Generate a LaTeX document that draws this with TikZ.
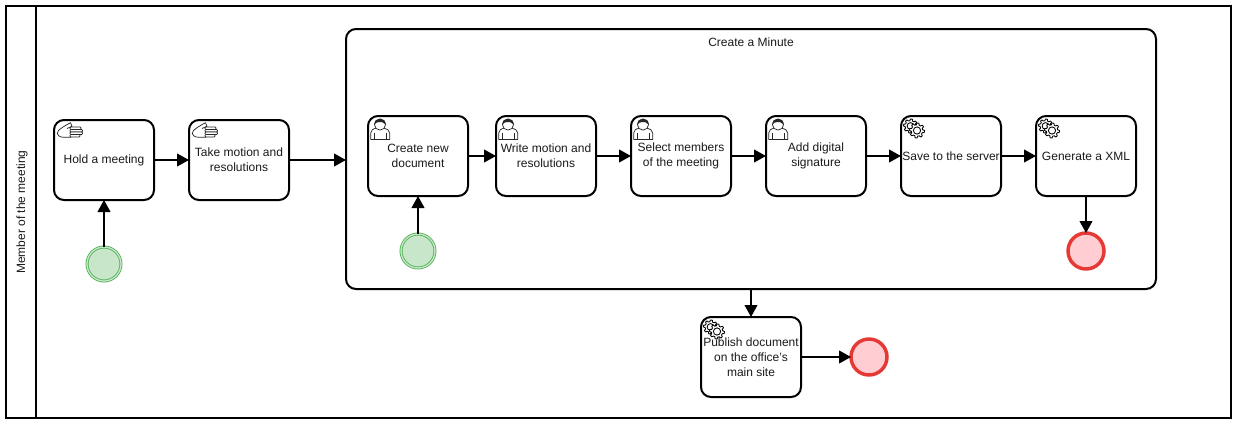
\documentclass[tikz,border=0pt]{standalone}
\usepackage{fontspec}
\setmainfont{Liberation Sans}
\usetikzlibrary{arrows.meta}
\definecolor{txt}{HTML}{1A1A1A}
\definecolor{startgreen}{HTML}{4CAF50}
\definecolor{startfill}{HTML}{C8E6C9}
\definecolor{endred}{HTML}{E53935}
\definecolor{endfill}{HTML}{FFCDD2}
\newcommand{\gearshape}[3]{%
  \draw[black,line width=0.65pt,fill=white,line join=round]
    plot[samples at={0,1,...,47}] ({#1+(mod(\x,6)<3?#3:#3*0.76)*cos(\x*7.5)},{#2+(mod(\x,6)<3?#3:#3*0.76)*sin(\x*7.5)}) -- cycle;
  \draw[black,line width=0.65pt,fill=white] (#1,#2) circle ({#3*0.48});}
\tikzset{
  x=0.75pt,y=-0.75pt,
  task/.style={draw=black,fill=white,line width=1.5pt,rounded corners=7.5pt,minimum width=75pt,minimum height=60pt,inner sep=0pt,outer sep=0pt,align=center,font=\fontsize{9}{11.25}\selectfont,text=txt},
  subproc/.style={draw=black,fill=white,line width=1.5pt,rounded corners=7.5pt,minimum width=607.5pt,minimum height=195pt,inner sep=0pt,outer sep=0pt},
  startev/.style={circle,draw=startgreen,fill=startfill,line width=0.6pt,double=startfill,double distance=1pt,minimum size=25.5pt,inner sep=0pt,outer sep=0pt},
  endev/.style={circle,draw=endred,fill=endfill,line width=2.6pt,minimum size=27pt,inner sep=0pt,outer sep=0pt},
  flow/.style={draw=black,line width=1.5pt,-{Triangle[length=9pt,width=9.5pt]}},
  lbl/.style={font=\fontsize{9}{11.25}\selectfont,text=txt,inner sep=0pt},
  pool/.style={draw=black,line width=1.5pt,fill=white},
  icon/.style={line width=0.55pt,draw=black!85},
  pics/hand/.style={code={
    \draw[icon,fill=white,line join=round] (16.5,2.7) .. controls (12,5) and (7,8) .. (4.5,10.5) .. controls (2.5,12.5) and (3,15) .. (5,16) .. controls (6.5,17.2) and (8,17.2) .. (10,17.2) -- (17,17.2);
    \draw[icon] (16.5,2.7) -- (18,6.3) -- (13,8.5);
    \foreach \yy/\xe in {7/27,9.5/28.5,12/28.5,14.5/26}{
      \draw[icon,fill=white,rounded corners=0.7pt] (16,\yy) rectangle (\xe,\yy+2.5);}
  }},
  pics/user/.style={code={
    \draw[icon,fill=white,line join=round] (2.7,23.5) -- (2.7,17) .. controls (2.7,14) and (5,13) .. (8.5,12) -- (15,12) .. controls (19,13) and (21.7,14) .. (21.7,17) -- (21.7,23.5) -- cycle;
    \draw[icon] (6,17) -- (6,23.5) (18.5,17) -- (18.5,23.5);
    \draw[icon,fill=white] (12,8.5) circle (4.2pt);
    \fill[black!85] (6.4,8.5) .. controls (6.4,4.5) and (9,2.9) .. (12,2.9) .. controls (15,2.9) and (17.6,4.5) .. (17.6,8.5) .. controls (16,6.2) and (13,5.7) .. (11,6) .. controls (9,6.2) and (7.5,7) .. (6.4,8.5) -- cycle;
  }},
  pics/gears/.style={code={
    \gearshape{9.5}{10}{7}
    \gearshape{16}{14.5}{7.5}
  }}
}
\begin{document}
\begin{tikzpicture}
\useasboundingbox (0,0) rectangle (1237,425);
\fill[white] (0,0) rectangle (1237,425);
\draw[pool] (6,6) rectangle (1231,418);
\draw[pool] (36,6) -- (36,418);
\node[lbl,rotate=90] (poollabel) at (22,212) {Member of the meeting};

\node[subproc] (sub) at (751,159) {};
\node[lbl] (subtitle) at (751,42) {Create a Minute};

\node[task] (hold) at (104,160) {Hold a meeting};
\node[task] (take) at (239,160) {Take motion and\\resolutions};
\node[task] (create) at (418,156) {Create new\\document};
\node[task] (write) at (546,156) {Write motion and\\resolutions};
\node[task] (select) at (681,156) {Select members\\of the meeting};
\node[task] (add) at (816,156) {Add digital\\signature};
\node[task] (save) at (951,156) {Save to the server};
\node[task] (gen) at (1086,156) {Generate a XML};
\node[task] (pub) at (751,357) {Publish document\\on the office's\\main site};

\node[startev] (s1) at (104,264) {};
\node[startev] (s2) at (418,251) {};
\node[endev] (e1) at (1086,251) {};
\node[endev] (e2) at (869,357) {};

\pic at (54,120) {hand};
\pic at (189,120) {hand};
\pic at (368,116) {user};
\pic at (496,116) {user};
\pic at (631,116) {user};
\pic at (766,116) {user};
\pic at (901,116) {gears};
\pic at (1036,116) {gears};
\pic at (701,317) {gears};

\draw[flow] (s1) -- (hold);
\draw[flow] (hold) -- (take);
\draw[flow] (take.east) -- (take.east -| sub.west);
\draw[flow] (s2) -- (create);
\draw[flow] (create) -- (write);
\draw[flow] (write) -- (select);
\draw[flow] (select) -- (add);
\draw[flow] (add) -- (save);
\draw[flow] (save) -- (gen);
\draw[flow] (gen) -- (e1);
\draw[flow] (sub.south) -- (pub.north);
\draw[flow] (pub) -- (e2);
\end{tikzpicture}
\end{document}
